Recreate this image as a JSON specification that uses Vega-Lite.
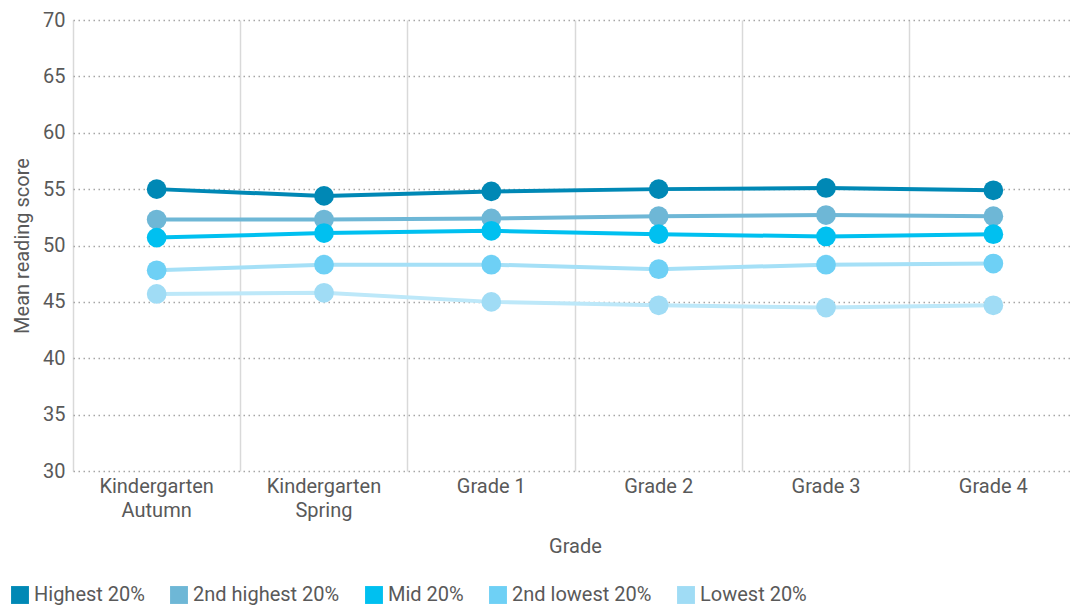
{
  "$schema": "https://vega.github.io/schema/vega-lite/v6.json",
  "autosize": {"type": "none"},
  "padding": {"left": 73, "top": 20, "right": 0, "bottom": 136},
  "width": 1004,
  "height": 451,
  "background": "white",
  "config": {
    "view": {"stroke": null},
    "font": "Roboto"
  },
  "data": {
    "values": [
      {"grade": "Kindergarten Autumn", "group": "Highest 20%", "score": 55.0},
      {"grade": "Kindergarten Spring", "group": "Highest 20%", "score": 54.4},
      {"grade": "Grade 1", "group": "Highest 20%", "score": 54.8},
      {"grade": "Grade 2", "group": "Highest 20%", "score": 55.0},
      {"grade": "Grade 3", "group": "Highest 20%", "score": 55.1},
      {"grade": "Grade 4", "group": "Highest 20%", "score": 54.9},
      {"grade": "Kindergarten Autumn", "group": "2nd highest 20%", "score": 52.3},
      {"grade": "Kindergarten Spring", "group": "2nd highest 20%", "score": 52.3},
      {"grade": "Grade 1", "group": "2nd highest 20%", "score": 52.4},
      {"grade": "Grade 2", "group": "2nd highest 20%", "score": 52.6},
      {"grade": "Grade 3", "group": "2nd highest 20%", "score": 52.7},
      {"grade": "Grade 4", "group": "2nd highest 20%", "score": 52.6},
      {"grade": "Kindergarten Autumn", "group": "Mid 20%", "score": 50.7},
      {"grade": "Kindergarten Spring", "group": "Mid 20%", "score": 51.1},
      {"grade": "Grade 1", "group": "Mid 20%", "score": 51.3},
      {"grade": "Grade 2", "group": "Mid 20%", "score": 51.0},
      {"grade": "Grade 3", "group": "Mid 20%", "score": 50.8},
      {"grade": "Grade 4", "group": "Mid 20%", "score": 51.0},
      {"grade": "Kindergarten Autumn", "group": "2nd lowest 20%", "score": 47.8},
      {"grade": "Kindergarten Spring", "group": "2nd lowest 20%", "score": 48.3},
      {"grade": "Grade 1", "group": "2nd lowest 20%", "score": 48.3},
      {"grade": "Grade 2", "group": "2nd lowest 20%", "score": 47.9},
      {"grade": "Grade 3", "group": "2nd lowest 20%", "score": 48.3},
      {"grade": "Grade 4", "group": "2nd lowest 20%", "score": 48.4},
      {"grade": "Kindergarten Autumn", "group": "Lowest 20%", "score": 45.7},
      {"grade": "Kindergarten Spring", "group": "Lowest 20%", "score": 45.8},
      {"grade": "Grade 1", "group": "Lowest 20%", "score": 45.0},
      {"grade": "Grade 2", "group": "Lowest 20%", "score": 44.7},
      {"grade": "Grade 3", "group": "Lowest 20%", "score": 44.5},
      {"grade": "Grade 4", "group": "Lowest 20%", "score": 44.7}
    ]
  },
  "encoding": {
    "x": {
      "field": "grade", "type": "nominal",
      "sort": ["Kindergarten Autumn", "Kindergarten Spring", "Grade 1", "Grade 2", "Grade 3", "Grade 4"],
      "scale": {"type": "band", "paddingInner": 0, "paddingOuter": 0},
      "title": "Grade",
      "axis": {
        "bandPosition": 0,
        "labelAngle": 0,
        "labelAlign": "center",
        "labelExpr": "indexof(datum.label, 'Kindergarten') == 0 ? split(datum.label, ' ') : datum.label",
        "labelFont": "Roboto",
        "labelFontSize": 20,
        "labelColor": "#595959",
        "labelLineHeight": 24,
        "labelPadding": 5,
        "labelLimit": 200,
        "titleFont": "Roboto",
        "titleFontSize": 20,
        "titleFontWeight": "normal",
        "titleColor": "#595959",
        "ticks": false,
        "domain": false,
        "grid": true,
        "gridColor": "#d9d9d9",
        "gridWidth": 1.5,
        "titlePadding": 16
      }
    },
    "y": {
      "field": "score", "type": "quantitative",
      "scale": {"domain": [30, 70], "nice": false, "zero": false},
      "title": "Mean reading score",
      "axis": {
        "values": [30, 35, 40, 45, 50, 55, 60, 65, 70],
        "labelFont": "Roboto",
        "labelFontSize": 20,
        "labelColor": "#595959",
        "titleFont": "Roboto",
        "titleFontSize": 20,
        "titleFontWeight": "normal",
        "titleColor": "#595959",
        "ticks": false,
        "domain": false,
        "grid": true,
        "gridColor": "#a6a6a6",
        "gridDash": [1.5, 3.5],
        "gridWidth": 1.5,
        "labelPadding": 8,
        "titlePadding": 10
      }
    }
  },
  "layer": [
    {
      "mark": {"type": "line", "strokeWidth": 4},
      "encoding": {
        "color": {
          "field": "group", "type": "nominal",
          "scale": {"domain": ["Highest 20%", "2nd highest 20%", "Mid 20%", "2nd lowest 20%", "Lowest 20%"], "range": ["#0088b5", "#6eb7d6", "#00c0f0", "#a5e0f7", "#bde8f9"]},
          "legend": null
        }
      }
    },
    {
      "mark": {"type": "point", "filled": true, "opacity": 1, "size": 390},
      "encoding": {
        "color": {
          "field": "group", "type": "nominal",
          "scale": {"domain": ["Highest 20%", "2nd highest 20%", "Mid 20%", "2nd lowest 20%", "Lowest 20%"], "range": ["#0088b5", "#6eb7d6", "#00c0f0", "#6ed0f5", "#a0dcf5"]},
          "title": null,
          "legend": {
            "orient": "none",
            "legendX": -63,
            "legendY": 565,
            "direction": "horizontal",
            "symbolType": "square",
            "symbolSize": 320,
            "symbolStrokeWidth": 0,
            "symbolOpacity": 1,
            "labelFont": "Roboto",
            "labelFontSize": 20,
            "labelColor": "#595959",
            "labelOffset": 4,
            "labelLimit": 300,
            "columnPadding": 24
          }
        }
      }
    }
  ],
  "resolve": {"scale": {"color": "independent"}}
}
